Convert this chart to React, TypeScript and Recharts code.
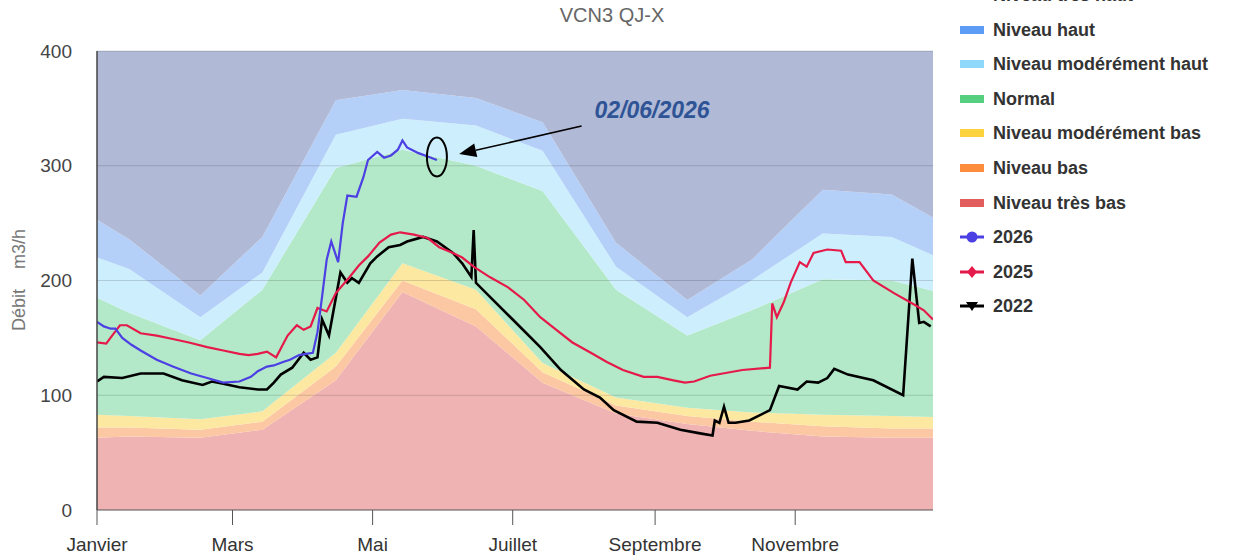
import React from "react"
import {
  ComposedChart, Area, Line, XAxis, YAxis, ReferenceLine, ReferenceDot,
} from "recharts"

// day-of-year positions of the band vertices
const bandDays = [0, 14, 45, 72, 104, 133, 165, 194, 226, 257, 285, 316, 346, 364]
// upper limits of each level (m3/h)
const limHaut = [253, 236, 187, 238, 357, 366, 359, 338, 233, 183, 218, 279, 275, 255]
const limModHaut = [220, 210, 168, 207, 327, 341, 335, 313, 212, 168, 200, 241, 238, 222]
const limNormal = [185, 172, 148, 192, 298, 314, 300, 278, 192, 152, 174, 201, 200, 191]
const limModBas = [83, 82, 79, 86, 137, 215, 192, 128, 98, 89, 85, 83, 82, 81]
const limBas = [72, 72, 70, 77, 125, 200, 175, 120, 91, 82, 77, 73, 71, 71]
const limTresBas = [63, 64, 63, 70, 113, 190, 160, 111, 84, 75, 69, 64, 63, 63]
const yMax = 400

const days2026 = [0, 3, 6, 8, 11, 15, 19, 26, 33, 41, 48, 55, 62, 67, 70, 74, 77, 81, 84, 88, 91, 94, 96, 98, 100, 102, 105, 107, 109, 113, 116, 118, 122, 125, 128, 131, 133, 135, 140, 144, 148]
const vals2026 = [164, 160, 158, 158, 150, 144, 139, 131, 125, 119, 115, 111, 112, 116, 121, 125, 126, 129, 131, 135, 136, 137, 155, 186, 218, 234, 216, 250, 274, 273, 290, 305, 312, 307, 309, 314, 322, 316, 311, 308, 305]

const days2025 = [0, 4, 7, 10, 13, 19, 26, 33, 40, 48, 55, 62, 66, 70, 74, 78, 83, 87, 90, 93, 96, 100, 104, 110, 114, 118, 123, 128, 132, 138, 144, 149, 155, 159, 164, 171, 179, 186, 193, 200, 207, 215, 222, 229, 238, 244, 251, 256, 260, 267, 281, 293, 294, 296, 299, 302, 306, 309, 312, 318, 324, 326, 332, 338, 347, 355, 360, 364]
const vals2025 = [146, 145, 153, 161, 161, 154, 152, 149, 146, 142, 139, 136, 135, 136, 138, 133, 152, 161, 157, 160, 176, 173, 189, 203, 213, 221, 233, 240, 242, 240, 237, 229, 224, 220, 212, 203, 194, 183, 168, 157, 146, 137, 129, 122, 116, 116, 113, 111, 112, 117, 122, 124, 180, 168, 181, 198, 216, 212, 224, 227, 226, 216, 216, 200, 189, 180, 174, 166]

const days2022 = [0, 3, 11, 19, 29, 37, 46, 50, 55, 62, 70, 74, 77, 80, 85, 90, 93, 96, 98, 101, 106, 109, 111, 114, 119, 122, 127, 132, 135, 142, 148, 155, 159, 163, 164, 165, 171, 181, 193, 202, 212, 219, 225, 235, 244, 254, 262, 268, 269, 271, 273, 275, 278, 284, 293, 297, 305, 309, 314, 318, 321, 327, 338, 351, 355, 358, 360, 363]
const vals2022 = [112, 116, 115, 119, 119, 113, 109, 112, 110, 107, 105, 105, 111, 118, 124, 137, 131, 133, 166, 152, 207, 198, 202, 198, 215, 221, 229, 231, 234, 238, 234, 224, 215, 203, 244, 198, 186, 166, 142, 122, 105, 98, 87, 77, 76, 70, 67, 65, 78, 76, 90, 76, 76, 78, 87, 108, 105, 112, 111, 115, 123, 118, 113, 100, 219, 163, 164, 160]

const monthTicks = [0, 59, 120, 181, 243, 304]
const monthLabels = ["Janvier", "Mars", "Mai", "Juillet", "Septembre", "Novembre"]
const yTicks = [0, 100, 200, 300, 400]

// annotation (day, value)
const lastDay = { x: 148, y: 307.6 }
const arrowFrom = { x: 211, y: 334.6 }
const arrowTo = { x: 157.7, y: 310.2 }
const noteAt = { x: 241.7, y: 348.6 }
const noteText = "02/06/2026"

const levels = [
  { key: "tb", name: "Niveau très bas", fill: "#f0b3b3", swatch: "#e25d5d" },
  { key: "b", name: "Niveau bas", fill: "#fbc8a3", swatch: "#fd8c3c" },
  { key: "mb", name: "Niveau modérément bas", fill: "#fde8a2", swatch: "#fcd33c" },
  { key: "n", name: "Normal", fill: "#b3e9c8", swatch: "#56cf7f" },
  { key: "mh", name: "Niveau modérément haut", fill: "#cdeffd", swatch: "#90d8fb" },
  { key: "h", name: "Niveau haut", fill: "#b5d0f8", swatch: "#5c9cf5" },
  { key: "th", name: "Niveau très haut", fill: "#b0b9d6", swatch: "#4f5fa5" },
]

const bandData = bandDays.map((day, i) => ({
  day,
  tb: limTresBas[i],
  b: limBas[i] - limTresBas[i],
  mb: limModBas[i] - limBas[i],
  n: limNormal[i] - limModBas[i],
  mh: limModHaut[i] - limNormal[i],
  h: limHaut[i] - limModHaut[i],
  th: yMax - limHaut[i],
}))

const toSeries = (days: number[], vals: number[]) => days.map((day, i) => ({ day, v: vals[i] }))
const s2026 = toSeries(days2026, vals2026)
const s2025 = toSeries(days2025, vals2025)
const s2022 = toSeries(days2022, vals2022)

const FONT = "'Liberation Sans', Arial, sans-serif"

const Arrow = (props: any) => {
  const { x1, y1, x2, y2 } = props
  const a = Math.atan2(y2 - y1, x2 - x1)
  const len = 17, half = 7
  const bx = x2 - len * Math.cos(a), by = y2 - len * Math.sin(a)
  const px = -Math.sin(a) * half, py = Math.cos(a) * half
  return (
    <g>
      <line x1={x1} y1={y1} x2={bx} y2={by} stroke="#000" strokeWidth={1.5} />
      <polygon points={`${x2},${y2} ${bx + px},${by + py} ${bx - px},${by - py}`} fill="#000" />
    </g>
  )
}

const legendLines = [
  { name: "2026", color: "#4c3fe3", marker: "circle" },
  { name: "2025", color: "#e5194a", marker: "diamond" },
  { name: "2022", color: "#000000", marker: "triangle" },
]

function LineIcon({ color, marker }: { color: string; marker: string }) {
  return (
    <svg width={26} height={16} style={{ position: "absolute", left: -1, top: 9 }}>
      <line x1={1} y1={8} x2={25} y2={8} stroke={color} strokeWidth={3} />
      {marker === "circle" && <circle cx={13} cy={8} r={5.5} fill={color} />}
      {marker === "diamond" && <polygon points="13,2 18,8 13,14 8,8" fill={color} />}
      {marker === "triangle" && <polygon points="7,4 19,4 13,13" fill={color} />}
    </svg>
  )
}

export default function App() {
  const legendRows = [...levels].reverse().map((l) => ({ name: l.name, swatch: l.swatch, line: null as any }))
    .concat(legendLines.map((l) => ({ name: l.name, swatch: "", line: l })))

  return (
    <div style={{ position: "fixed", left: 0, top: 0, width: 1234, height: 560, overflow: "hidden", background: "#fff", fontFamily: FONT }}>
      <div style={{ position: "absolute", left: 0, width: 1224, top: 4, textAlign: "center", fontSize: 20, color: "#666", lineHeight: "22px" }}>
        VCN3 QJ-X
      </div>
      <div style={{ position: "absolute", left: 19, top: 280, transform: "translate(-50%, -50%) rotate(-90deg)", whiteSpace: "pre", fontSize: 18, color: "#777" }}>
        {"Débit    m3/h"}
      </div>

      <ComposedChart width={1234} height={560} data={bandData} margin={{ top: 51, right: 301, bottom: 0, left: 0 }}>
        {levels.map((l) => (
          <Area key={l.key} type="linear" dataKey={l.key} stackId="lv" stroke="none" fill={l.fill} fillOpacity={1}
            isAnimationActive={false} activeDot={false} />
        ))}
        {[100, 200, 300, 400].map((v) => (
          <ReferenceLine key={v} y={v} stroke="#000" strokeOpacity={0.15} strokeWidth={1} />
        ))}
        <XAxis dataKey="day" type="number" domain={[0, 364]} ticks={monthTicks} allowDataOverflow
          tickFormatter={(d: number) => monthLabels[monthTicks.indexOf(d)] ?? ""}
          height={50} tickSize={15} tickMargin={13} interval={0}
          axisLine={{ stroke: "#555" }} tickLine={{ stroke: "#555" }}
          tick={{ fill: "#333", fontSize: 19, fontFamily: FONT }} />
        <YAxis domain={[0, yMax]} ticks={yTicks} width={97} tickLine={false} tickSize={6} tickMargin={19}
          axisLine={{ stroke: "#444", strokeWidth: 1.5 }} allowDataOverflow
          tick={{ fill: "#444", fontSize: 19, fontFamily: FONT }} />
        <Line data={s2022} dataKey="v" type="linear" stroke="#000" strokeWidth={2.6} dot={false} activeDot={false} isAnimationActive={false} />
        <Line data={s2025} dataKey="v" type="linear" stroke="#e5194a" strokeWidth={2.2} dot={false} activeDot={false} isAnimationActive={false} />
        <Line data={s2026} dataKey="v" type="linear" stroke="#4c3fe3" strokeWidth={2.2} dot={false} activeDot={false} isAnimationActive={false} />
        <ReferenceDot x={lastDay.x} y={lastDay.y} r={0}
          shape={(p: any) => <ellipse cx={p.cx} cy={p.cy} rx={10} ry={19.5} fill="none" stroke="#000" strokeWidth={2} />} />
        <ReferenceLine segment={[arrowFrom, arrowTo]} shape={(p: any) => <Arrow {...p} />} />
        <ReferenceDot x={noteAt.x} y={noteAt.y} r={0}
          shape={(p: any) => (
            <text x={p.cx} y={p.cy + 8} textAnchor="middle" fontSize={23} fontWeight="bold" fontStyle="italic"
              fill="#2f5496" fontFamily={FONT}>{noteText}</text>
          )} />
      </ComposedChart>

      <div style={{ position: "absolute", left: 960, top: 0 }}>
        {legendRows.map((r, i) => (
          <div key={r.name} style={{ position: "absolute", left: 0, top: -5 + i * 34.6 - 17, height: 34, width: 270 }}>
            {r.line ? <LineIcon color={r.line.color} marker={r.line.marker} />
              : <div style={{ position: "absolute", left: 0, top: 13, width: 24, height: 8, background: r.swatch }} />}
            <div style={{ position: "absolute", left: 33, top: 0, lineHeight: "34px", fontSize: 18, fontWeight: "bold", color: "#333", whiteSpace: "nowrap" }}>
              {r.name}
            </div>
          </div>
        ))}
      </div>
    </div>
  )
}
